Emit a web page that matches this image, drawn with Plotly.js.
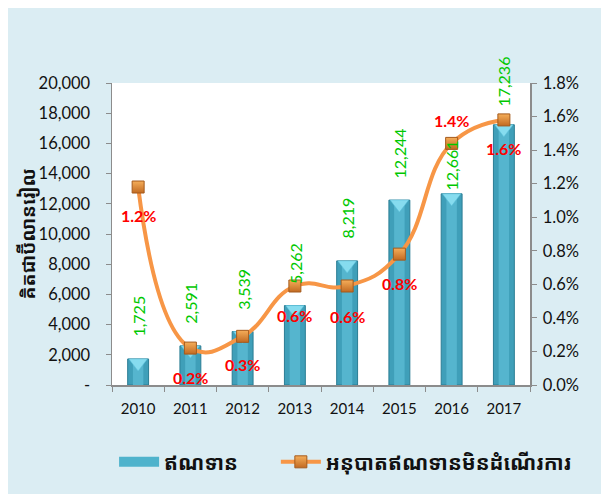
<!DOCTYPE html>
<html>
<head>
<meta charset="utf-8">
<script src="https://cdn.plot.ly/plotly-3.0.1.min.js"></script>
<style>
  html, body { margin: 0; padding: 0; background: #ffffff; }
  #chart { position: absolute; left: 8px; top: 8px; width: 593px; height: 486px; }
</style>
</head>
<body>
<div id="chart"></div>
<script>
// ---- data ----
const years = ['2010', '2011', '2012', '2013', '2014', '2015', '2016', '2017'];
const credit = [1725, 2591, 3539, 5262, 8219, 12244, 12661, 17236];
const nplRatio = [1.18, 0.22, 0.29, 0.59, 0.59, 0.78, 1.44, 1.58];
const leftTickVals = [0, 2000, 4000, 6000, 8000, 10000, 12000, 14000, 16000, 18000, 20000];
const leftTickText = ['-', '2,000', '4,000', '6,000', '8,000', '10,000', '12,000', '14,000', '16,000', '18,000', '20,000'];
const creditName = 'ឥណទាន';
const nplName = 'អនុបាតឥណទានមិនដំណើរការ';
const yTitle = 'គិតជាប៊ីលានរៀល';

// label placement (style only)
const creditLabelShift = [20, 20, 20, 20, 20, 20, 1, 16];
const nplLabelShift = [-28, -29, -28, -29, -30, -29, 23, -29];

const baseFont = 'Lato, "Open Sans", "DejaVu Sans", sans-serif';
const khmerFont = '"Noto Sans Khmer", "Khmer OS", "Noto Sans", "DejaVu Sans", sans-serif';

const traces = [
  {
    type: 'bar', x: years, y: credit, name: creditName, showlegend: false,
    width: 0.4,
    marker: { color: '#3f9fb9', line: { color: '#2b7d94', width: 1 } },
    hoverinfo: 'skip'
  },
  {
    type: 'bar', x: years, y: credit, showlegend: false,
    width: 0.2,
    marker: { color: '#55b5ce', line: { width: 0 } },
    hoverinfo: 'skip'
  },
  {
    type: 'scatter', mode: 'markers', x: years, y: credit, showlegend: false,
    marker: { symbol: 'triangle-down', angle: 0, standoff: 4, size: 16,
              color: '#86dcef', line: { color: '#5cc3dc', width: 0.5 } },
    hoverinfo: 'skip', cliponaxis: false
  },
  {
    // legend-only entry for the bars (wide swatch)
    type: 'scatter', mode: 'lines', x: [null], y: [null], name: creditName,
    line: { color: '#4fb3cc', width: 10 },
    legend: 'legend',
    hoverinfo: 'skip'
  },
  {
    type: 'scatter', mode: 'lines+markers', x: years, y: nplRatio, name: nplName,
    yaxis: 'y2', legend: 'legend2',
    line: { color: '#f79646', width: 4, shape: 'spline', smoothing: 1.3 },
    marker: { symbol: 'square', size: 12, color: '#f5ae5a',
              gradient: { type: 'vertical', color: '#c26a22' },
              line: { color: '#a45a1c', width: 1 } },
    hoverinfo: 'skip', cliponaxis: false
  }
];

const annotations = [];
credit.forEach((v, i) => {
  annotations.push({
    x: i, y: v, xref: 'x', yref: 'y',
    text: v.toLocaleString('en-US'),
    textangle: -90, showarrow: false,
    xanchor: 'center', yanchor: 'bottom', yshift: creditLabelShift[i],
    font: { family: baseFont, size: 16, color: '#00c800' }
  });
});
nplRatio.forEach((v, i) => {
  annotations.push({
    x: i, y: v, xref: 'x', yref: 'y2',
    text: v.toFixed(1) + '%',
    showarrow: false,
    xanchor: 'center', yanchor: 'middle', yshift: nplLabelShift[i],
    font: { family: baseFont, size: 16, color: '#ff0000', weight: 'bold' }
  });
});
// y-axis title
annotations.push({
  xref: 'paper', yref: 'paper', x: -0.2, y: 0.5,
  text: yTitle, textangle: -90, showarrow: false,
  xanchor: 'center', yanchor: 'middle',
  font: { family: khmerFont, size: 19, color: '#111111', weight: 'bold' }
});

const legendFont = { family: khmerFont, size: 20.5, color: '#111111', weight: 'bold' };

const layout = {
  width: 593, height: 486,
  paper_bgcolor: '#dbedf3', plot_bgcolor: '#ffffff',
  margin: { l: 104, r: 71, t: 75, b: 109 },
  barmode: 'overlay',
  showlegend: true,
  font: { family: baseFont, size: 15, color: '#111111' },
  xaxis: {
    type: 'category', categoryorder: 'array', categoryarray: years,
    range: [-0.5, years.length - 0.5],
    showline: true, linecolor: '#8c8c8c', linewidth: 1.5,
    ticks: 'outside', tickson: 'boundaries', ticklen: 5, tickcolor: '#8c8c8c',
    ticklabelstandoff: 9,
    tickfont: { family: baseFont, size: 15, color: '#111111' },
    showgrid: false, zeroline: false
  },
  yaxis: {
    range: [0, 20000],
    tickvals: leftTickVals, ticktext: leftTickText,
    showline: true, linecolor: '#8c8c8c', linewidth: 1.5,
    ticks: 'outside', ticklen: 5, tickcolor: '#8c8c8c',
    ticklabelstandoff: 12,
    tickfont: { family: baseFont, size: 16.5, color: '#111111' },
    showgrid: false, zeroline: false
  },
  yaxis2: {
    overlaying: 'y', side: 'right',
    range: [0, 1.8], dtick: 0.2, tickformat: '.1f', ticksuffix: '%',
    showline: true, linecolor: '#8c8c8c', linewidth: 1.5,
    ticks: 'outside', ticklen: 5, tickcolor: '#8c8c8c',
    ticklabelstandoff: 3,
    tickfont: { family: baseFont, size: 16.5, color: '#111111' },
    showgrid: false, zeroline: false
  },
  legend: {
    orientation: 'h', x: 0.005, xanchor: 'left', y: -0.255, yanchor: 'middle',
    bgcolor: 'rgba(0,0,0,0)', font: legendFont, itemwidth: 40
  },
  legend2: {
    orientation: 'h', x: 0.392, xanchor: 'left', y: -0.255, yanchor: 'middle',
    bgcolor: 'rgba(0,0,0,0)', font: legendFont, itemwidth: 40
  },
  annotations: annotations
};

Plotly.newPlot('chart', traces, layout, { displayModeBar: false, staticPlot: true });
</script>
</body>
</html>
